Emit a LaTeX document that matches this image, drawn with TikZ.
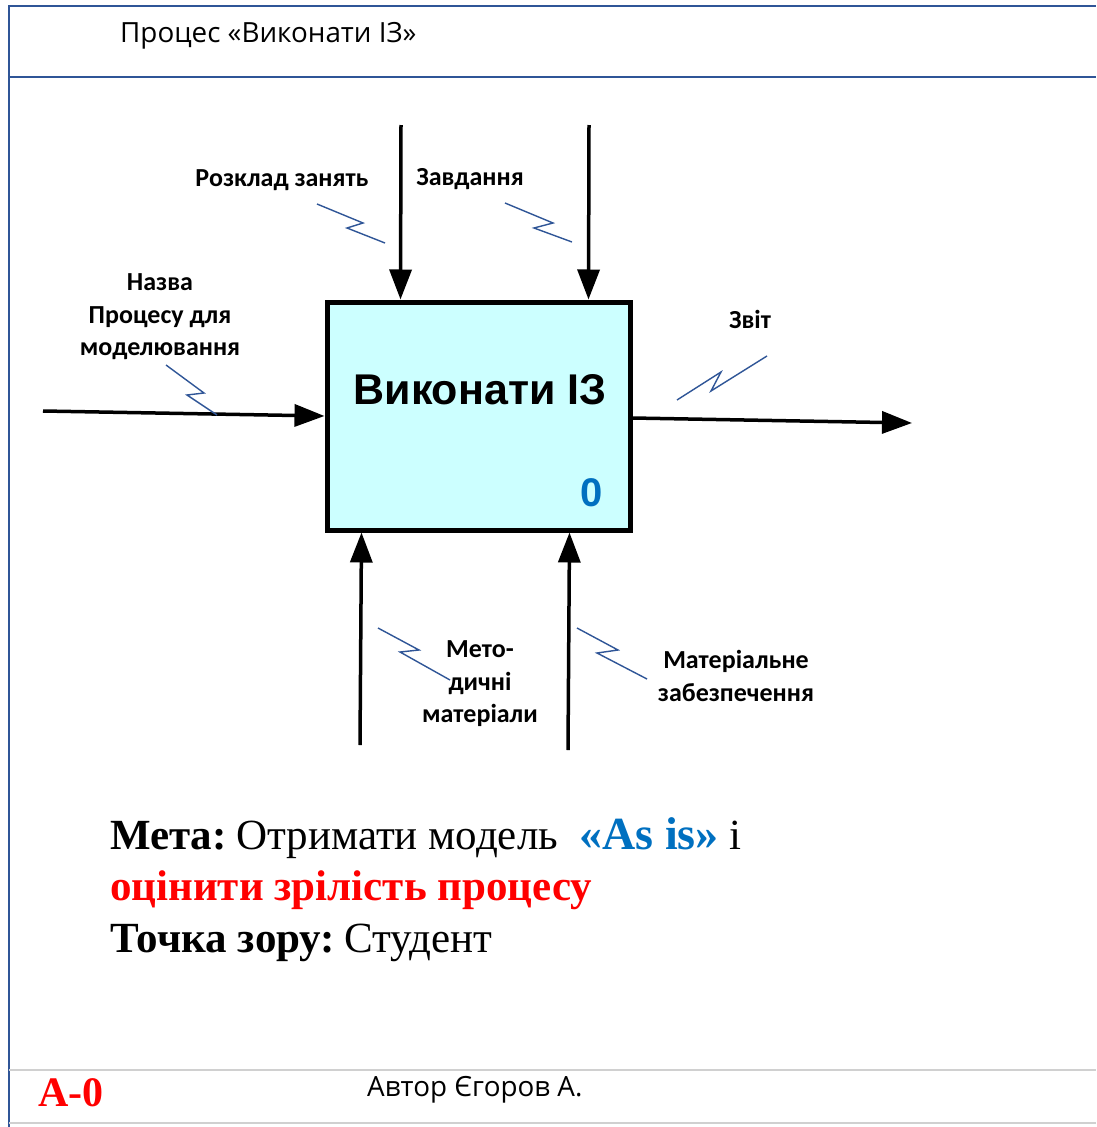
\documentclass[tikz,border=0pt]{standalone}
\usepackage{fontspec}
\setmainfont{Liberation Serif}
\newfontfamily\lblfont{Carlito}
\newfontfamily\headfont{Open Sans}
\newfontfamily\arialfont{Liberation Sans}
\usetikzlibrary{arrows.meta}
\definecolor{frameblue}{HTML}{2F5597}
\definecolor{boxfill}{HTML}{CCFFFF}
\definecolor{numblue}{HTML}{0070C0}
\definecolor{rulegray}{HTML}{D0D0D0}
\begin{document}
\begin{tikzpicture}[x=1pt,y=-1pt,
  flow/.style={line width=3.5pt,-{Triangle[length=30pt,width=22pt]}},
  zig/.style={frameblue,line width=1.4pt},
  lbl/.style={font=\lblfont\bfseries\fontsize{26}{32.5}\selectfont,align=center,inner sep=0pt},
  head/.style={anchor=west,inner sep=0pt,font=\headfont\fontsize{27.8}{30}\selectfont},
  goal/.style={anchor=base west,inner sep=0pt,font=\fontsize{43}{52}\selectfont}]
\useasboundingbox[fill=white] (0,0) rectangle (1096,1127);

% sheet frame
\draw[frameblue,line width=2pt] (9,1127) -- (9,6) -- (1096,6);
\draw[frameblue,line width=2pt] (9,77) -- (1096,77);
\draw[rulegray,line width=1.5pt] (9,1070) -- (1096,1070);
\draw[rulegray,line width=1.5pt] (9,1123) -- (1096,1123);

\node[head] (title) at (120,36) {Процес «Виконати ІЗ»};

% activity box
\node[draw,line width=5pt,fill=boxfill,minimum width=303pt,minimum height=228pt,inner sep=0pt] (box) at (478.5,416) {};
\node[font=\arialfont\bfseries\fontsize{43}{46}\selectfont,inner sep=0pt] (boxname) at (480,390) {Виконати ІЗ};
\node[font=\arialfont\bfseries\fontsize{40}{44}\selectfont,text=numblue,inner sep=0pt] (boxnum) at (591.5,493) {0};

% free ends of the arrows
\coordinate (inS) at (43,411);
\coordinate (outE) at (912,423);
\coordinate (c1S) at (401,125);
\coordinate (c2S) at (589,125);
\coordinate (m1S) at (360,745);
\coordinate (m2S) at (568,750);

% arrows
\draw[flow] (inS) -- (box.west);
\draw[flow] ([yshift=-2pt]box.east) -- (outE);
\draw[flow] (c1S) -- ([xshift=76pt]box.north west);
\draw[flow] (c2S) -- ([xshift=264pt]box.north west);
\draw[flow] (m1S) -- ([xshift=37pt]box.south west);
\draw[flow] (m2S) -- ([xshift=245pt]box.south west);

% arrow labels
\node[lbl] (l1) at (282,180) {Розклад занять};
\node[lbl] (l2) at (470,179) {Завдання};
\node[lbl] (l3) at (160,317) {Назва\\Процесу для\\моделювання};
\node[lbl] (l4) at (750,319) {Звіт};
\node[lbl] (l5) at (480,684) {Мето-\\дичні\\матеріали};
\node[lbl] (l6) at (736,676) {Матеріальне\\забезпечення};

% squiggles tying labels to arrows
\draw[zig] (317,204) -- (363,223) -- (347,228) -- (385,243);
\draw[zig] (505,203) -- (553,223) -- (534,228) -- (572,242);
\draw[zig] (166,365) -- (204,393) -- (187,395) -- (217,415);
\draw[zig] (677,400) -- (721,372) -- (711,391) -- (767,356);
\draw[zig] (378,628) -- (419,650) -- (400,652) -- (450,680);
\draw[zig] (577,628) -- (618,650) -- (597,653) -- (647,679);

% purpose and viewpoint
\node[goal] (goal1) at (110,849) {\textbf{Мета:}\hspace{0.22em}Отримати модель \ {\fontsize{46}{52}\selectfont\textbf{\color{numblue}«As is»}} і};
\node[goal] (goal2) at (110,900) {\textbf{\color{red}оцінити зрілість процесу}};
\node[goal] (goal3) at (110,952) {\textbf{Точка зору:}\hspace{0.22em}Студент};

% footer
\node[anchor=base west,inner sep=0pt,font=\bfseries\fontsize{42}{44}\selectfont,text=red] (node) at (38,1106) {A-0};
\node[head] (author) at (367,1090) {Автор Єгоров А.};
\end{tikzpicture}
\end{document}
